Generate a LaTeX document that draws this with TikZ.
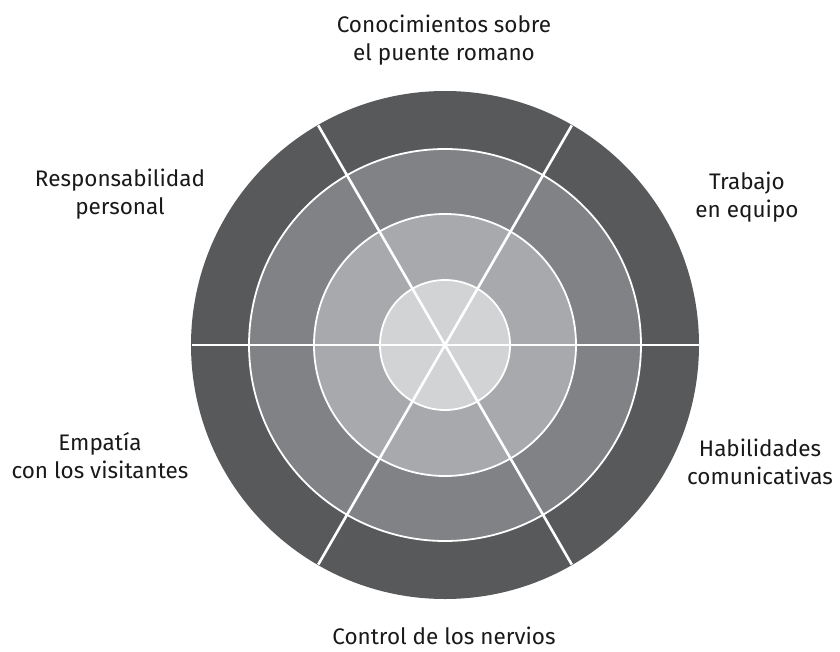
\documentclass[tikz,border=0pt]{standalone}
\usepackage{fontspec}
\setmainfont{Fira Sans}
\definecolor{ringout}{HTML}{58595B}
\definecolor{ringtwo}{HTML}{808285}
\definecolor{ringthree}{HTML}{A7A9AC}
\definecolor{ringin}{HTML}{D1D3D4}

\begin{document}
\begin{tikzpicture}[x=1pt, y=-1pt,
    lbl/.style={align=center, anchor=north, inner sep=0pt,
      font=\fontsize{22.5}{28}\selectfont, text=black!90},
    sep/.style={white, line width=2.6pt}]
  \useasboundingbox (0,0) rectangle (840,652);
  \coordinate (c) at (445,345);
  % rings
  \fill[ringout] (c) circle (254pt);
  \foreach \r/\col in {196/ringtwo, 131/ringthree, 65/ringin}
    \filldraw[fill=\col, draw=white, line width=1.8pt] (c) circle (\r pt);
  % spokes
  \foreach \a in {0,60,120}
    \draw[sep] ([shift={(\a:253.5pt)}]c) -- ([shift={(\a+180:253.5pt)}]c);
  % labels
  \node[lbl] (conoc) at (444,15)  {Conocimientos sobre\\el puente romano};
  \node[lbl] (trab)  at (747,172) {Trabajo\\en equipo};
  \node[lbl] (habil) at (760,439) {Habilidades\\comunicativas};
  \node[lbl] (contr) at (444,627) {Control de los nervios};
  \node[lbl] (empat) at (100,432) {Empatía\\con los visitantes};
  \node[lbl] (resp)  at (120,169) {Responsabilidad\\personal};
\end{tikzpicture}
\end{document}
